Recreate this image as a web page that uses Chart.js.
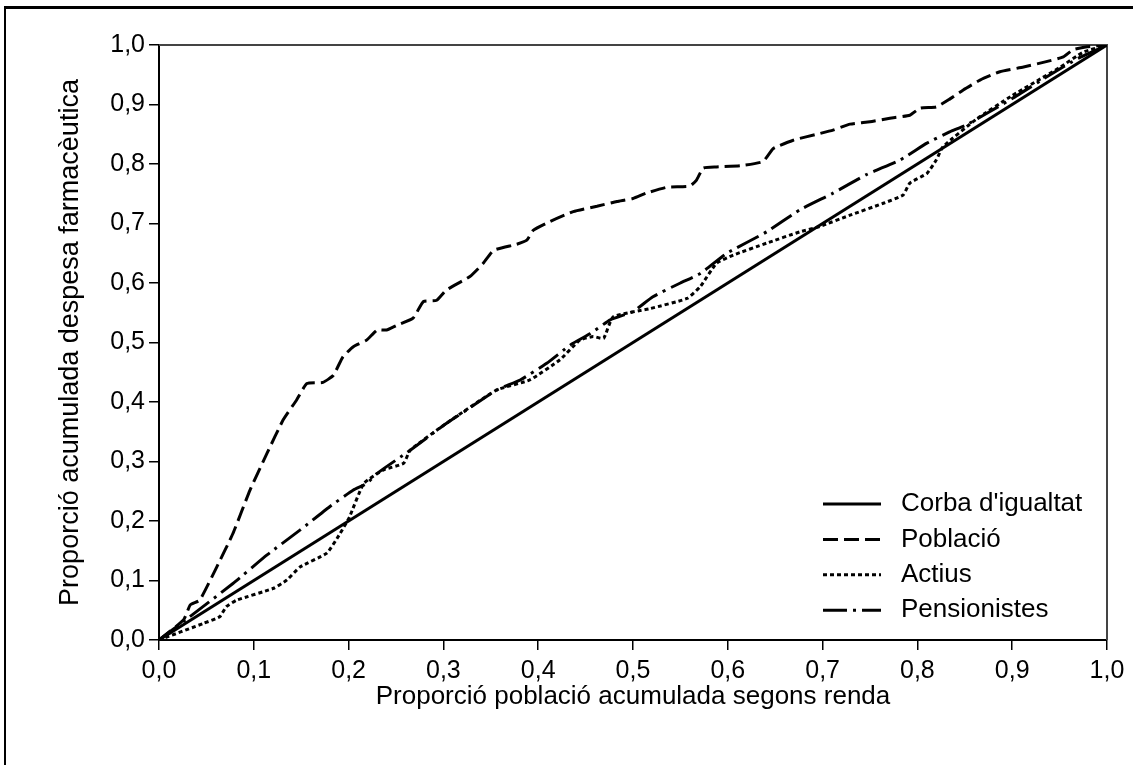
<!DOCTYPE html>
<html>
<head>
<meta charset="utf-8">
<script src="https://cdn.jsdelivr.net/npm/chart.js@4.4.1/dist/chart.umd.min.js"></script>
<style>
  body { margin: 0; background: #fff; }
  #wrap { position: relative; width: 1133px; height: 765px; }
  #frame { position: absolute; left: 4px; top: 6px; width: 1129px; height: 759px;
           border-top: 3px solid #000; border-left: 2px solid #000; box-sizing: border-box; pointer-events: none; }
</style>
</head>
<body>
<div id="wrap">
  <canvas id="myChart" width="1133" height="765"></canvas>
  <div id="frame"></div>
</div>
<script>
// series (x = proporció població, y = proporció despesa)
const igualtatX = [0, 1];
const igualtatY = [0, 1];

const poblacioX = [0, 0.026, 0.033, 0.043, 0.061, 0.078, 0.096, 0.114, 0.131, 0.145, 0.156, 0.173, 0.184, 0.194, 0.205,
  0.219, 0.230, 0.240, 0.251, 0.268, 0.279, 0.293, 0.303, 0.328, 0.342, 0.353, 0.377, 0.388, 0.395, 0.412,
  0.437, 0.462, 0.483, 0.500, 0.514, 0.536, 0.560, 0.567, 0.574, 0.588, 0.613, 0.637, 0.648, 0.669, 0.694,
  0.711, 0.729, 0.750, 0.771, 0.792, 0.803, 0.820, 0.834, 0.848, 0.866, 0.887, 0.912, 0.936, 0.954, 0.964, 0.979, 1.0];
const poblacioY = [0, 0.034, 0.059, 0.067, 0.123, 0.179, 0.252, 0.314, 0.370, 0.403, 0.431, 0.433, 0.445, 0.476, 0.493,
  0.504, 0.521, 0.521, 0.529, 0.541, 0.569, 0.571, 0.588, 0.611, 0.633, 0.655, 0.665, 0.672, 0.689, 0.703,
  0.720, 0.729, 0.737, 0.742, 0.751, 0.761, 0.763, 0.773, 0.793, 0.795, 0.797, 0.804, 0.826, 0.840, 0.850,
  0.857, 0.867, 0.871, 0.877, 0.882, 0.894, 0.896, 0.909, 0.924, 0.941, 0.955, 0.963, 0.972, 0.980, 0.992, 0.997, 1.0];

const actiusX = [0, 0.047, 0.064, 0.071, 0.082, 0.121, 0.135, 0.149, 0.177, 0.191, 0.201, 0.216, 0.237, 0.258, 0.265,
  0.303, 0.356, 0.391, 0.423, 0.444, 0.458, 0.469, 0.479, 0.518, 0.557, 0.571, 0.588, 0.606, 0.641, 0.676,
  0.697, 0.729, 0.764, 0.785, 0.792, 0.810, 0.820, 0.827, 0.862, 0.900, 0.950, 0.975, 1.0];
const actiusY = [0, 0.028, 0.039, 0.056, 0.067, 0.087, 0.101, 0.123, 0.146, 0.179, 0.207, 0.263, 0.286, 0.297, 0.319,
  0.364, 0.420, 0.437, 0.471, 0.504, 0.510, 0.507, 0.543, 0.557, 0.574, 0.594, 0.633, 0.647, 0.667, 0.686,
  0.695, 0.714, 0.734, 0.748, 0.768, 0.784, 0.807, 0.829, 0.875, 0.915, 0.962, 0.988, 1.0];

const pensionistesX = [0, 0.030, 0.078, 0.114, 0.149, 0.180, 0.205, 0.219, 0.230, 0.265, 0.303, 0.325, 0.356, 0.381, 0.409,
  0.434, 0.455, 0.476, 0.500, 0.521, 0.550, 0.571, 0.599, 0.641, 0.676, 0.711, 0.746, 0.782, 0.810, 0.834,
  0.852, 0.900, 0.940, 0.970, 1.0];
const pensionistesY = [0, 0.036, 0.095, 0.143, 0.185, 0.224, 0.252, 0.263, 0.280, 0.319, 0.364, 0.387, 0.420, 0.437, 0.465,
  0.496, 0.515, 0.538, 0.552, 0.577, 0.600, 0.616, 0.650, 0.686, 0.723, 0.751, 0.782, 0.807, 0.835, 0.854,
  0.866, 0.910, 0.950, 0.978, 1.0];

const seriesLabels = ["Corba d'igualtat", 'Població', 'Actius', 'Pensionistes'];
const xTitle = 'Proporció població acumulada segons renda';
const yTitle = 'Proporció acumulada despesa farmacèutica';

const FONT = "'Liberation Sans', Arial, sans-serif";

function pts(xs, ys) {
  return xs.map((x, i) => ({x: x, y: ys[i]}));
}
function comma(v) {
  return Number(v).toFixed(1).replace('.', ',');
}

// legend inside the plot, bottom right, plus the top/right plot border
const insideLegend = {
  id: 'insideLegend',
  beforeDatasetsDraw(chart) {
    const {ctx, chartArea: a} = chart;
    ctx.save();
    ctx.strokeStyle = '#444';
    ctx.lineWidth = 2;
    ctx.beginPath();
    ctx.moveTo(a.left, a.top);
    ctx.lineTo(a.right, a.top);
    ctx.lineTo(a.right, a.bottom);
    ctx.stroke();
    ctx.restore();
  },
  afterDatasetsDraw(chart) {
    const {ctx, chartArea: a} = chart;
    const x0 = a.right - 284, x1 = a.right - 226, tx = a.right - 206;
    ctx.save();
    ctx.font = '26px ' + FONT;
    ctx.textBaseline = 'middle';
    ctx.fillStyle = '#000';
    chart.data.datasets.forEach((ds, i) => {
      const y = a.bottom - 136 + i * 35.4;
      ctx.strokeStyle = '#000';
      ctx.lineWidth = ds.borderWidth;
      ctx.setLineDash(ds.borderDash || []);
      ctx.beginPath();
      ctx.moveTo(x0, y);
      ctx.lineTo(x1, y);
      ctx.stroke();
      ctx.setLineDash([]);
      ctx.fillText(ds.label, tx, y);
    });
    ctx.restore();
  }
};

const lineBase = {borderColor: '#000', backgroundColor: '#000', pointRadius: 0, fill: false, tension: 0.15};

new Chart(document.getElementById('myChart'), {
  type: 'line',
  data: {
    datasets: [
      {...lineBase, label: seriesLabels[0], data: pts(igualtatX, igualtatY), borderWidth: 3, borderDash: []},
      {...lineBase, label: seriesLabels[1], data: pts(poblacioX, poblacioY), borderWidth: 3, borderDash: [15, 6]},
      {...lineBase, label: seriesLabels[2], data: pts(actiusX, actiusY), borderWidth: 3, borderDash: [4, 3]},
      {...lineBase, label: seriesLabels[3], data: pts(pensionistesX, pensionistesY), borderWidth: 3, borderDash: [24, 6, 3, 6]}
    ]
  },
  options: {
    responsive: false,
    devicePixelRatio: 1,
    animation: false,
    layout: {padding: {top: 45, right: 26, left: 0, bottom: 0}},
    plugins: {legend: {display: false}, tooltip: {enabled: false}},
    scales: {
      x: {
        type: 'linear', min: 0, max: 1,
        ticks: {stepSize: 0.1, autoSkip: false, maxRotation: 0, color: '#000', padding: 6,
          font: {family: FONT, size: 25}, callback: comma},
        grid: {drawOnChartArea: false, tickLength: 10, color: '#000', lineWidth: 1.5},
        border: {color: '#000', width: 2},
        title: {display: true, text: xTitle, color: '#000', font: {family: FONT, size: 26},
          padding: {top: 0, bottom: 53}},
        afterFit(s) { s.height = 125; }
      },
      y: {
        type: 'linear', min: 0, max: 1,
        ticks: {stepSize: 0.1, autoSkip: false, color: '#000', padding: 4,
          font: {family: FONT, size: 25}, callback: comma},
        grid: {drawOnChartArea: false, tickLength: 10, color: '#000', lineWidth: 1.5},
        border: {color: '#000', width: 2},
        title: {display: true, text: yTitle, color: '#000', font: {family: FONT, size: 27},
          padding: {top: 54, bottom: 0}},
        afterFit(s) { s.width = 159; }
      }
    }
  },
  plugins: [insideLegend]
});
</script>
</body>
</html>
